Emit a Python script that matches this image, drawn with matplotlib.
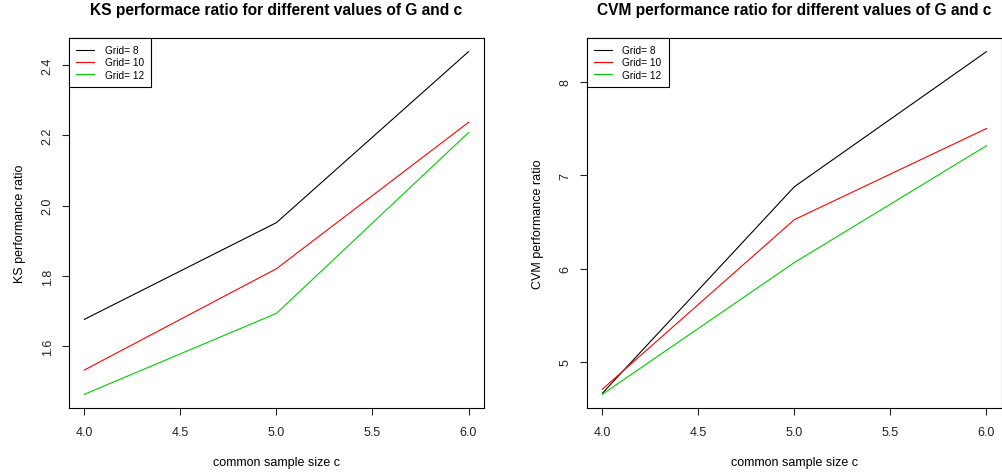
import matplotlib
matplotlib.use('Agg')
import matplotlib.pyplot as plt

plt.rcParams['font.family'] = ['Liberation Sans', 'DejaVu Sans']

# common sample size c
sample_size = [4, 5, 6]
grid_labels = ['Grid= 8', 'Grid= 10', 'Grid= 12']
grid_colors = ['black', 'red', '#00cc00']

# KS performance ratio per grid
ks_grid8 = [1.677, 1.952, 2.438]
ks_grid10 = [1.533, 1.821, 2.237]
ks_grid12 = [1.464, 1.694, 2.208]

# CVM performance ratio per grid
cvm_grid8 = [4.666, 6.875, 8.319]
cvm_grid10 = [4.709, 6.523, 7.497]
cvm_grid12 = [4.655, 6.064, 7.313]

ks_ticks = [1.6, 1.8, 2.0, 2.2, 2.4]
cvm_ticks = [5, 6, 7, 8]
x_ticks = [4.0, 4.5, 5.0, 5.5, 6.0]

fig = plt.figure(figsize=(10.02, 4.77), dpi=100)
ax1 = fig.add_axes([0.0689, 0.1426, 0.414, 0.7757])
ax2 = fig.add_axes([0.5858, 0.1426, 0.414, 0.7757])

panels = [
    (ax1, [ks_grid8, ks_grid10, ks_grid12], ks_ticks, ['1.6', '1.8', '2.0', '2.2', '2.4'],
     'KS performance ratio', 'KS performace ratio for different values of G and c'),
    (ax2, [cvm_grid8, cvm_grid10, cvm_grid12], cvm_ticks, ['5', '6', '7', '8'],
     'CVM performance ratio', 'CVM performance ratio for different values of G and c'),
]

for ax, series, yticks, ylabels, ylab, title in panels:
    for vals, lab, col in zip(series, grid_labels, grid_colors):
        ax.plot(sample_size, vals, color=col, lw=0.8, label=lab)
    lo = min(min(v) for v in series)
    hi = max(max(v) for v in series)
    pad = (hi - lo) * 0.04
    ax.set_ylim(lo - pad, hi + pad)
    ax.set_xlim(4 - 0.08, 6 + 0.08)
    ax.set_xticks(x_ticks)
    ax.set_xticklabels(['4.0', '4.5', '5.0', '5.5', '6.0'])
    ax.set_yticks(yticks)
    ax.set_yticklabels(ylabels, rotation=90, va='center')
    ax.tick_params(direction='out', length=5, width=0.8, labelsize=9, colors='#222222', pad=8)
    ax.tick_params(axis='y', pad=6)
    for s in ax.spines.values():
        s.set_linewidth(0.8)
    ax.set_xlabel('common sample size c', fontsize=9, labelpad=13)
    ax.set_ylabel(ylab, fontsize=9, labelpad=11)
    ax.set_title(title, fontsize=11.2, fontweight='bold', pad=17)
    leg = ax.legend(loc='upper left', borderaxespad=0, fancybox=False, fontsize=7.3,
                    handlelength=1.8, borderpad=0.7, labelspacing=0.22, handletextpad=1.0,
                    framealpha=1)
    leg.get_frame().set_edgecolor('black')
    leg.get_frame().set_linewidth(0.8)

fig.savefig('out.png', dpi=100)
